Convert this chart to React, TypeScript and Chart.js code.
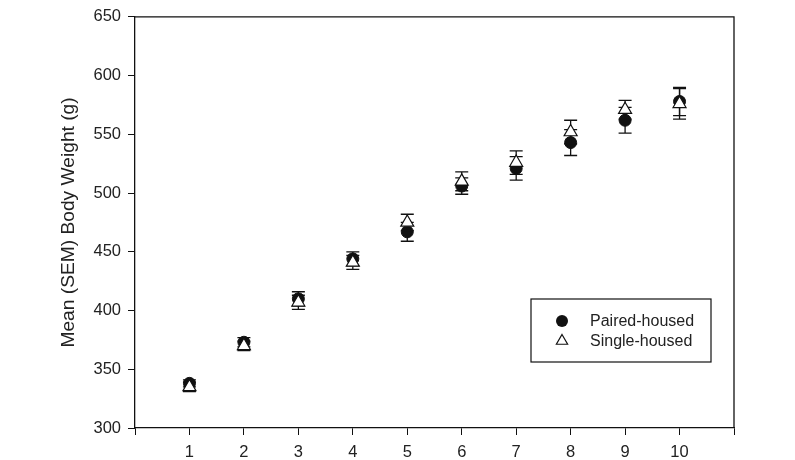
import React, { useEffect, useRef } from 'react';
import { Chart, registerables } from 'chart.js';

Chart.register(...registerables);

// ---- data ----
const weeks = [1, 2, 3, 4, 5, 6, 7, 8, 9, 10];
const pairedMean = [338, 373, 410, 444, 467, 506, 521, 543, 562, 578];
const pairedSem = [3, 4, 6, 6, 8, 7, 10, 11, 11, 12];
const singleMean = [335, 370, 407, 441, 475, 510, 526, 552, 571, 576];
const singleSem = [4, 4, 6, 6, 7, 8, 10, 10, 8, 13];
const seriesLabels = ['Paired-housed', 'Single-housed'];
const yAxisTitle = 'Mean (SEM) Body Weight (g)';

const FONT = "'Liberation Sans', Arial, Helvetica, sans-serif";
const INK = '#111';
const TEXT = '#222';

const errorBarPlugin = {
  id: 'errorBars',
  beforeDatasetDraw(chart: any, args: any) {
    const ds = chart.data.datasets[args.index];
    const errs: number[] = ds.errors;
    if (!errs) return;
    const ctx = chart.ctx;
    const yScale = chart.scales.y;
    ctx.save();
    ctx.strokeStyle = INK;
    ctx.lineWidth = 1.3;
    args.meta.data.forEach((pt: any, i: number) => {
      const v = ds.data[i].y;
      const x = pt.x;
      const yHi = yScale.getPixelForValue(v + errs[i]);
      const yLo = yScale.getPixelForValue(v - errs[i]);
      ctx.beginPath();
      ctx.moveTo(x, yHi);
      ctx.lineTo(x, yLo);
      ctx.moveTo(x - 6.5, yHi);
      ctx.lineTo(x + 6.5, yHi);
      ctx.moveTo(x - 6.5, yLo);
      ctx.lineTo(x + 6.5, yLo);
      ctx.stroke();
    });
    ctx.restore();
  },
};

const framePlugin = {
  id: 'frame',
  beforeDatasetsDraw(chart: any) {
    const { ctx, chartArea } = chart;
    ctx.save();
    ctx.strokeStyle = INK;
    ctx.lineWidth = 1.3;
    ctx.beginPath();
    ctx.moveTo(chartArea.left, chartArea.top);
    ctx.lineTo(chartArea.right, chartArea.top);
    ctx.lineTo(chartArea.right, chartArea.bottom);
    ctx.stroke();
    ctx.restore();
  },
};

function drawMarker(ctx: CanvasRenderingContext2D, style: string, x: number, y: number, r: number) {
  ctx.beginPath();
  if (style === 'circle') {
    ctx.arc(x, y, r, 0, Math.PI * 2);
    ctx.closePath();
    ctx.fill();
  } else {
    const w = r * Math.sin((2 * Math.PI) / 3);
    ctx.moveTo(x, y - r);
    ctx.lineTo(x + w, y + r / 2);
    ctx.lineTo(x - w, y + r / 2);
    ctx.closePath();
    ctx.fill();
    ctx.stroke();
  }
}

const legendPlugin = {
  id: 'boxLegend',
  afterDraw(chart: any) {
    const { ctx, chartArea } = chart;
    const boxW = 180;
    const boxH = 63;
    const right = chartArea.right - 23;
    const bottom = chartArea.bottom - 66;
    const left = right - boxW;
    const top = bottom - boxH;
    ctx.save();
    ctx.strokeStyle = INK;
    ctx.lineWidth = 1.2;
    ctx.strokeRect(left, top, boxW, boxH);
    ctx.font = `16px ${FONT}`;
    ctx.textBaseline = 'middle';
    ctx.textAlign = 'left';
    chart.data.datasets
      .slice()
      .sort((a: any, b: any) => a.legendRank - b.legendRank)
      .forEach((ds: any, i: number) => {
        const cy = top + 22 + i * 20;
        const mx = left + 31;
        ctx.fillStyle = ds.backgroundColor;
        ctx.strokeStyle = ds.borderColor;
        ctx.lineWidth = ds.borderWidth;
        drawMarker(ctx, ds.pointStyle, mx, cy, ds.pointStyle === 'circle' ? 6 : 6.5);
        ctx.fillStyle = TEXT;
        ctx.fillText(ds.label, left + 59, cy + 1);
      });
    ctx.restore();
  },
};

export default function App() {
  const ref = useRef<HTMLCanvasElement>(null);

  useEffect(() => {
    if (!ref.current) return;
    const chart = new Chart(ref.current, {
      type: 'scatter',
      data: {
        datasets: [
          {
            label: seriesLabels[1],
            data: weeks.map((w, i) => ({ x: w, y: singleMean[i] })),
            errors: singleSem,
            legendRank: 1,
            pointStyle: 'triangle',
            pointRadius: 7.5,
            pointHoverRadius: 7.5,
            backgroundColor: '#ffffff',
            borderColor: INK,
            borderWidth: 1.2,
            order: 0,
          } as any,
          {
            label: seriesLabels[0],
            data: weeks.map((w, i) => ({ x: w, y: pairedMean[i] })),
            errors: pairedSem,
            legendRank: 0,
            pointStyle: 'circle',
            pointRadius: 6,
            pointHoverRadius: 6,
            backgroundColor: INK,
            borderColor: INK,
            borderWidth: 1,
            order: 1,
          } as any,
        ],
      },
      options: {
        responsive: false,
        animation: false,
        events: [],
        layout: { padding: { top: 8, right: 61, left: 0, bottom: 0 } },
        plugins: {
          legend: { display: false },
          tooltip: { enabled: false },
        },
        scales: {
          x: {
            type: 'linear',
            min: 0,
            max: 11,
            afterFit: (s: any) => {
              s.height = 32;
            },
            ticks: {
              stepSize: 1,
              autoSkip: false,
              maxRotation: 0,
              padding: 8,
              color: TEXT,
              font: { family: FONT, size: 16.5 },
              callback: (v: any) => (v >= 1 && v <= 10 ? String(v) : ''),
            },
            grid: {
              display: true,
              drawOnChartArea: false,
              drawTicks: true,
              tickLength: 7,
              color: INK,
              lineWidth: 1,
            },
            border: { display: true, color: INK, width: 1.3 },
          },
          y: {
            type: 'linear',
            min: 300,
            max: 650,
            afterFit: (s: any) => {
              s.width = 135;
            },
            ticks: {
              stepSize: 50,
              padding: 7,
              color: TEXT,
              font: { family: FONT, size: 16.5 },
            },
            grid: {
              display: true,
              drawOnChartArea: false,
              drawTicks: true,
              tickLength: 7,
              color: INK,
              lineWidth: 1,
            },
            border: { display: true, color: INK, width: 1.3 },
            title: {
              display: true,
              text: yAxisTitle,
              color: TEXT,
              font: { family: FONT, size: 19.2 },
              padding: { top: 57, bottom: 0 },
            },
          },
        },
      },
      plugins: [errorBarPlugin, framePlugin, legendPlugin],
    } as any);
    return () => chart.destroy();
  }, []);

  return (
    <div style={{ position: 'fixed', left: 0, top: 0, width: 795, height: 460, background: '#fff' }}>
      <canvas ref={ref} width={795} height={460} />
    </div>
  );
}
